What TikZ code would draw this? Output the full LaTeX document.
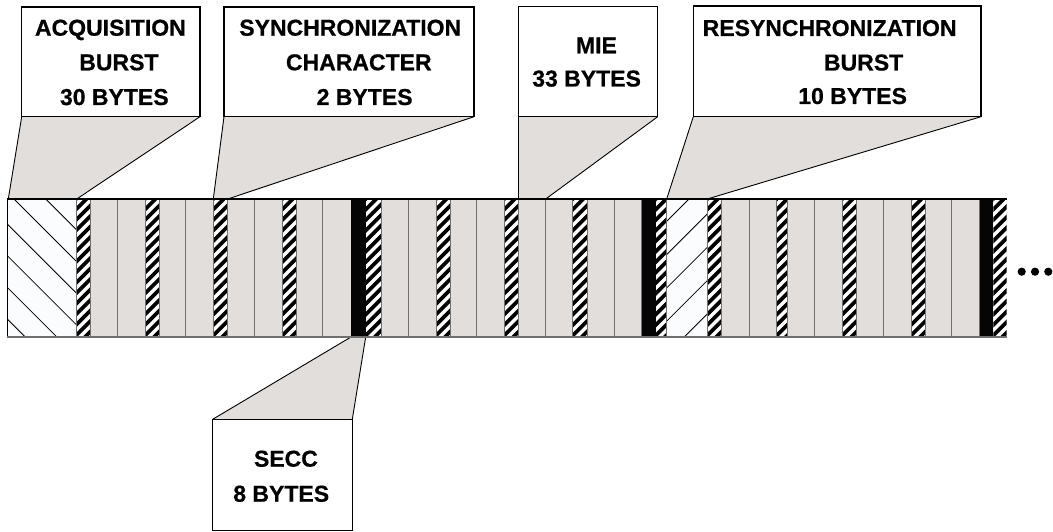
\documentclass[tikz,border=0pt]{standalone}
\usepackage{fontspec}
\setmainfont{Liberation Sans}[BoldFeatures={FakeBold=0.6}]
\definecolor{cellgray}{RGB}{225,222,219}
\definecolor{divgray}{RGB}{112,112,112}
\definecolor{hatchwhite}{RGB}{251,252,254}
\tikzset{
  labelbox/.style={draw=black, line width=1.2pt, fill=white, inner sep=0pt, outer sep=0pt, anchor=north west},
  lbl/.style={anchor=base west, inner sep=0pt, outer sep=0pt, font=\fontsize{23}{23}\selectfont\bfseries},
  calloutfill/.style={fill=cellgray},
  calloutline/.style={draw=black, line width=0.9pt},
  divider/.style={draw=divgray, line width=1pt},
  stripeline/.style={draw=black, line width=3.7pt},
  hatchline/.style={draw=black, line width=0.8pt},
}
\begin{document}
\begin{tikzpicture}[x=1pt,y=-1pt]
\useasboundingbox (0,0) rectangle (1053,532);

% ---- label boxes (named nodes) ----
\node[labelbox, minimum width=178.3pt, minimum height=109.7pt] (b1) at (21.7,7) {};
\node[labelbox, minimum width=250pt,   minimum height=109.7pt] (b2) at (224,7) {};
\node[labelbox, minimum width=139.4pt, minimum height=110.2pt] (b3) at (518.3,6.5) {};
\node[labelbox, minimum width=287.7pt, minimum height=110.7pt] (b4) at (693.3,6) {};
\node[labelbox, minimum width=139.6pt, minimum height=111.4pt] (b5) at (212.7,419.3) {};

% ---- bar anchor points for callouts ----
\coordinate (p1l) at (8.3,199);   \coordinate (p1r) at (76.7,199);
\coordinate (p2l) at (213.3,199); \coordinate (p2r) at (227.7,199);
\coordinate (p3l) at (518.3,199); \coordinate (p3r) at (545.7,199);
\coordinate (p4l) at (666.7,199); \coordinate (p4r) at (707.3,199);
\coordinate (p5l) at (351,337);   \coordinate (p5r) at (365.7,337);

% ---- callout wedges ----
\foreach \b/\l/\r in {b1/p1l/p1r, b2/p2l/p2r, b3/p3l/p3r, b4/p4l/p4r}{
  \fill[calloutfill] (\b.south west) -- (\l) -- (\r) -- (\b.south east) -- cycle;
  \draw[calloutline] (\b.south west) -- (\l);
  \draw[calloutline] (\b.south east) -- (\r);
}
\fill[calloutfill] (b5.north west) -- (p5l) -- (p5r) -- (b5.north east) -- cycle;
\draw[calloutline] (b5.north west) -- (p5l);
\draw[calloutline] (b5.north east) -- (p5r);

% ---- redraw boxes on top ----
\draw[draw=black, line width=1.2pt, fill=white] (b1.south west) rectangle (b1.north east);
\draw[draw=black, line width=1.2pt, fill=white] (b2.south west) rectangle (b2.north east);
\draw[draw=black, line width=1.2pt, fill=white] (b3.south west) rectangle (b3.north east);
\draw[draw=black, line width=1.2pt, fill=white] (b4.south west) rectangle (b4.north east);
\draw[draw=black, line width=1.2pt, fill=white] (b5.south west) rectangle (b5.north east);

% ---- bar ----
\fill[cellgray] (7.3,199) rectangle (1006.7,337);

% acquisition burst (backslash hatch)
\begin{scope}
  \clip (7.3,199) rectangle (76,337);
  \fill[hatchwhite] (7.3,199) rectangle (76,337);
  \foreach \k in {0,...,5}{
    \draw[hatchline] (0,{153.3+31.7*\k}) -- (100,{253.3+31.7*\k});
  }
\end{scope}

% resynchronization burst (slash hatch)
\begin{scope}
  \clip (666.7,199) rectangle (707.3,337);
  \fill[hatchwhite] (666.7,199) rectangle (707.3,337);
  \foreach \k in {0,...,5}{
    \draw[hatchline] (650,{888+33.3*\k-650}) -- (720,{888+33.3*\k-720});
  }
\end{scope}

% striped cells
\foreach \a/\b in {76/90, 145/159, 213.3/227.3, 282.3/296, 365.7/381, 436/450,
                   504.3/518.3, 572.7/587.3, 655.7/666.7, 707.3/721.7, 776.7/787.3,
                   842.3/856.7, 911/925, 993.3/1006.7}{
  \begin{scope}
    \clip (\a,199) rectangle (\b,337);
    \fill[white] (\a,199) rectangle (\b,337);
    \foreach \k in {-1,...,15}{
      \draw[stripeline] ({\a-5},{199+\k*10.5+5}) -- ({\a+25},{199+\k*10.5-25});
    }
  \end{scope}
}

% black cells
\foreach \a/\b in {351/365.7, 641.7/655.7, 979/993.3}{
  \fill[black!98] (\a,199) rectangle (\b,337);
}

% dividers
\foreach \x in {76,90,117.3,145,159,185.7,213.3,227.3,254.3,282.3,296,322.7,
                381,408.7,436,450,476.7,504.3,518.3,545.7,572.7,587.3,614.3,641.7,
                666.7,707.3,721.7,749.3,776.7,787.3,814.3,842.3,856.7,883.3,911,925,951.7,979}{
  \draw[divider] (\x,199) -- (\x,337);
}

% outline
\draw[black, line width=1.1pt] (7.3,337) -- (7.3,199) -- (1006.7,199);
\draw[divgray, line width=1.4pt] (7.3,337) -- (1006.7,337);

% continuation dots
\fill (1021.7,271.7) circle (4.1);
\fill (1035,271.7) circle (4.1);
\fill (1048.3,271.7) circle (4.1);

% ---- texts ----
\node[lbl] (t1a) at (35,35.7) {ACQUISITION};
\node[lbl] (t1b) at (79.3,70.3) {BURST};
\node[lbl] (t1c) at (60,105) {30 BYTES};

\node[lbl] (t2a) at (239.3,35.7) {SYNCHRONIZATION};
\node[lbl] (t2b) at (286,70.3) {CHARACTER};
\node[lbl] (t2c) at (316.7,105) {2 BYTES};

\node[lbl] (t3a) at (576,53.3) {MIE};
\node[lbl] (t3b) at (532.3,86.5) {33 BYTES};

\node[lbl] (t4a) at (702.7,36) {RESYNCHRONIZATION};
\node[lbl] (t4b) at (824,70.5) {BURST};
\node[lbl] (t4c) at (798.3,104) {10 BYTES};

\node[lbl] (t5a) at (254,466.7) {SECC};
\node[lbl] (t5b) at (233.3,501.7) {8 BYTES};
\end{tikzpicture}
\end{document}
